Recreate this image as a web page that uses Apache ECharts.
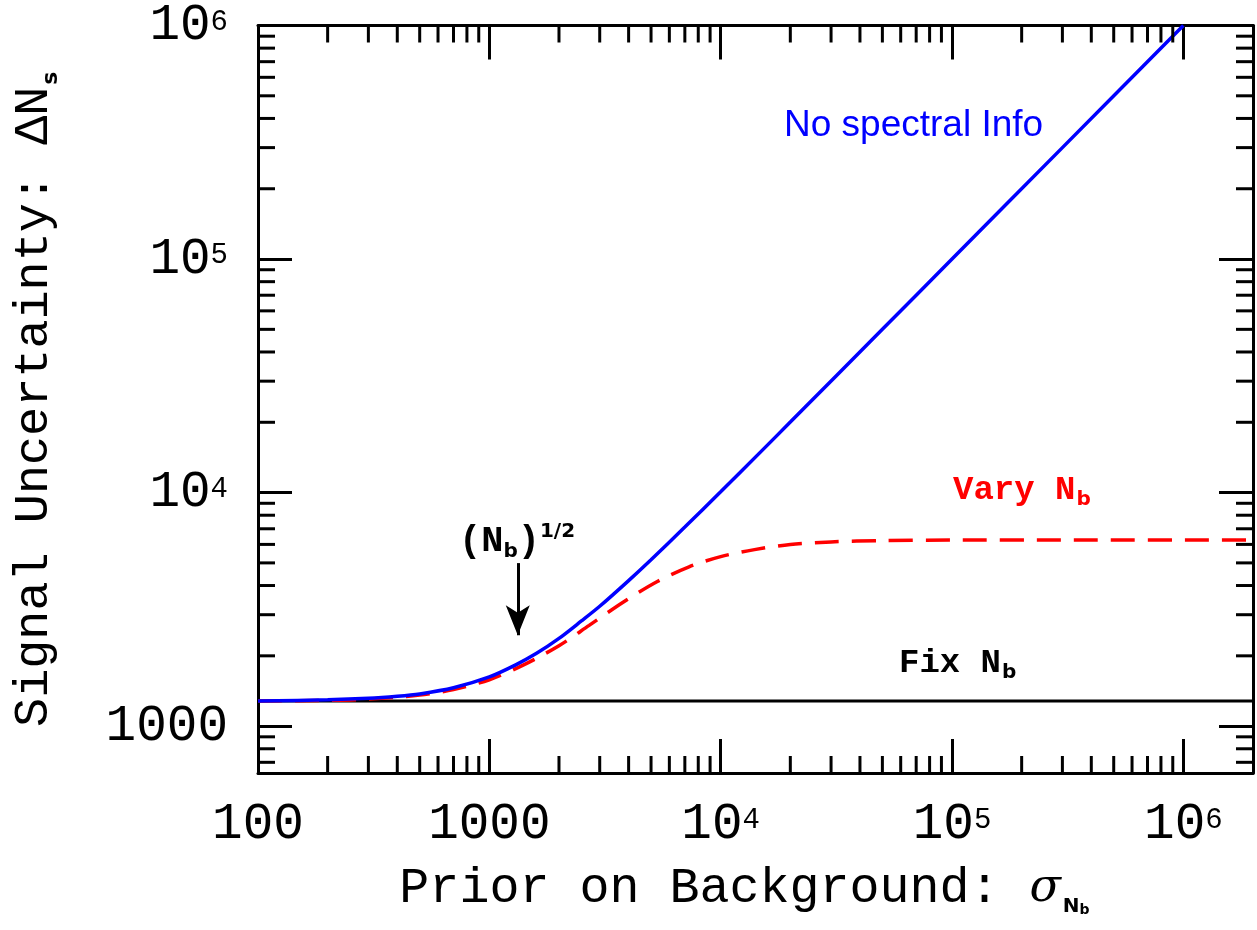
<!DOCTYPE html>
<html>
<head>
<meta charset="utf-8">
<script src="https://cdn.jsdelivr.net/npm/echarts@6/dist/echarts.min.js"></script>
<style>html,body{margin:0;padding:0;background:#fff}#c{width:1257px;height:930px}</style>
</head>
<body>
<div id="c"></div>
<script>
// ---- data ----
const sigmaBlue = [100, 200, 300, 400, 500, 700, 1000, 1300, 1600, 2000, 2500, 3000, 4000, 5000, 7000, 10000, 15000, 20000, 50000, 100000, 300000, 1000000];
const deltaBlue = [1282, 1296, 1315, 1342, 1374, 1460, 1625, 1830, 2050, 2375, 2820, 3260, 4200, 5160, 7120, 10080, 15050, 20040, 50020, 100000, 300000, 1000000];

const sigmaRed = [100, 200, 300, 500, 700, 1000, 1400, 2000, 2700, 3800, 5300, 7300, 10000, 14000, 20000, 30000, 50000, 100000, 300000, 2000000];
const deltaRed = [1281, 1290, 1305, 1358, 1435, 1580, 1825, 2210, 2700, 3400, 4150, 4810, 5320, 5700, 6000, 6150, 6230, 6260, 6265, 6265];

const sigmaFix = [100, 2000000];
const deltaFix = [1280, 1280];

const xTickExp = [2, 3, 4, 5, 6];
const xTickText = ['100', '1000', '10^4', '10^5', '10^6'];
const yTickExp = [3, 4, 5, 6];
const yTickText = ['1000', '10^4', '10^5', '10^6'];

const arrowX = 1327, arrowYFrom = 4990, arrowYTo = 2450;

const X_MIN = 100, X_MAX = 2000000, Y_MIN = 630, Y_MAX = 1000000;

// ---- helpers ----
const MONO = '"Liberation Mono", "DejaVu Sans Mono", monospace';
function zip(a, b) { return a.map((v, i) => [v, b[i]]); }
function tickFmt(exps, texts) {
  return function (v) {
    const l = Math.log10(v), e = Math.round(l);
    if (Math.abs(l - e) > 1e-6) return '';
    const i = exps.indexOf(e);
    if (i < 0) return '';
    const t = texts[i];
    if (t.indexOf('^') >= 0) { const p = t.split('^'); return '{b|' + p[0] + '}{s|' + p[1] + '}'; }
    return '{b|' + t + '}';
  };
}
const labelRich = {
  b: { fontFamily: MONO, fontSize: 51, color: '#000', lineHeight: 50 },
  s: { fontFamily: MONO, fontSize: 29, color: '#000', verticalAlign: 'top', lineHeight: 29, padding: [7, 0, 0, 0] }
};

const xMinor = [], yMinor = [];
for (let d = 2; d <= 6; d++) for (let m = 2; m <= 9; m++) { const v = m * Math.pow(10, d); if (v < X_MAX) xMinor.push([v, Y_MIN]); }
for (let d = 2; d <= 5; d++) for (let m = 2; m <= 9; m++) { const v = m * Math.pow(10, d); if (v > Y_MIN && v < Y_MAX) yMinor.push([X_MIN, v]); }

const MINOR = 17, TW = 3;
function tickLine(x1, y1, x2, y2) {
  return { type: 'line', shape: { x1: x1, y1: y1, x2: x2, y2: y2 }, style: { stroke: '#000', lineWidth: TW } };
}

const axisCommon = {
  type: 'log', logBase: 10,
  axisLine: { show: true, lineStyle: { color: '#000', width: 3 } },
  axisTick: { show: true, inside: true, length: 34, lineStyle: { color: '#000', width: 3 } },
  splitLine: { show: false },
  minorTick: { show: false }
};

const chart = echarts.init(document.getElementById('c'), null, { renderer: 'canvas' });
chart.setOption({
  animation: false,
  backgroundColor: '#fff',
  grid: { left: 258, right: 4, top: 25, bottom: 157, containLabel: false },
  xAxis: [
    Object.assign({}, axisCommon, {
      position: 'bottom', min: X_MIN, max: X_MAX,
      axisLabel: { show: true, margin: 26, formatter: tickFmt(xTickExp, xTickText), rich: labelRich, showMinLabel: true, showMaxLabel: false, hideOverlap: false },
      name: '{t|Prior on Background: }{sg|σ}{n|N}{nb|b}',
      nameLocation: 'middle', nameGap: 88,
      nameTextStyle: {
        padding: [0, 22, 0, 0],
        rich: {
          t: { fontFamily: MONO, fontSize: 50, color: '#000', lineHeight: 56 },
          sg: { fontFamily: '"DejaVu Serif", serif', fontStyle: 'italic', fontSize: 46, color: '#000', lineHeight: 56 },
          n: { fontFamily: '"DejaVu Sans", sans-serif', fontWeight: 'bold', fontSize: 20, color: '#000', verticalAlign: 'bottom', lineHeight: 20, padding: [0, 0, 0, 2] },
          nb: { fontFamily: '"DejaVu Sans", sans-serif', fontWeight: 'bold', fontSize: 14, color: '#000', verticalAlign: 'bottom', lineHeight: 14, padding: [0, 0, 0, 0] }
        }
      }
    }),
    Object.assign({}, axisCommon, {
      position: 'top', min: X_MIN, max: X_MAX, axisLabel: { show: false }
    })
  ],
  yAxis: [
    Object.assign({}, axisCommon, {
      position: 'left', min: Y_MIN, max: Y_MAX,
      axisLabel: { show: true, margin: 30, formatter: tickFmt(yTickExp, yTickText), rich: labelRich, showMinLabel: false, showMaxLabel: true, hideOverlap: false },
      name: '{t|Signal Uncertainty: ΔN}{s|s}',
      nameLocation: 'middle', nameRotate: 90, nameGap: 196,
      nameTextStyle: {
        rich: {
          t: { fontFamily: MONO, fontSize: 48.5, color: '#000', lineHeight: 56 },
          s: { fontFamily: '"DejaVu Sans", sans-serif', fontWeight: 'bold', fontSize: 22, color: '#000', verticalAlign: 'bottom', lineHeight: 22, padding: [0, 0, 0, 2] }
        }
      }
    }),
    Object.assign({}, axisCommon, {
      position: 'right', min: Y_MIN, max: Y_MAX, axisLabel: { show: false }
    })
  ],
  series: [
    {
      name: 'Fix Nb', type: 'line', data: zip(sigmaFix, deltaFix), showSymbol: false, symbol: 'none',
      lineStyle: { color: '#000', width: 3 }, z: 3,
      markLine: {
        silent: true, symbol: ['none', 'arrow'], symbolSize: [18, 30],
        lineStyle: { color: '#000', width: 3, type: 'solid' }, label: { show: false },
        data: [[{ coord: [arrowX, arrowYFrom] }, { coord: [arrowX, arrowYTo] }]]
      }
    },
    {
      name: 'Vary Nb', type: 'line', data: zip(sigmaRed, deltaRed), showSymbol: false, symbol: 'none', smooth: 0.3,
      lineStyle: { color: '#ff0000', width: 3.5, type: [24, 13] }, z: 4
    },
    {
      name: 'No spectral Info', type: 'line', data: zip(sigmaBlue, deltaBlue), showSymbol: false, symbol: 'none', smooth: 0.3,
      lineStyle: { color: '#0000ff', width: 3.5 }, z: 5
    },
    {
      type: 'custom', data: xMinor, silent: true, z: 10,
      renderItem: function (params, api) {
        const v = api.value(0);
        const pb = api.coord([v, Y_MIN]), pt = api.coord([v, Y_MAX]);
        return { type: 'group', children: [tickLine(pb[0], pb[1], pb[0], pb[1] - MINOR), tickLine(pt[0], pt[1], pt[0], pt[1] + MINOR)] };
      }
    },
    {
      type: 'custom', data: yMinor, silent: true, z: 10,
      renderItem: function (params, api) {
        const v = api.value(1);
        const pl = api.coord([X_MIN, v]), pr = api.coord([X_MAX, v]);
        return { type: 'group', children: [tickLine(pl[0], pl[1], pl[0] + MINOR, pl[1]), tickLine(pr[0], pr[1], pr[0] - MINOR, pr[1])] };
      }
    }
  ],
  graphic: [
    {
      type: 'text', x: 784, y: 126, z: 20,
      style: { text: 'No spectral Info', fill: '#0000ff', font: '37px "Liberation Sans", Arial, sans-serif', align: 'left', verticalAlign: 'middle' }
    },
    {
      type: 'text', x: 953, y: 490, z: 20,
      style: {
        text: '{m|Vary N}{s|b}', align: 'left', verticalAlign: 'middle',
        rich: {
          m: { fontFamily: MONO, fontWeight: 'bold', fontSize: 34, fill: '#ff0000', lineHeight: 40 },
          s: { fontFamily: '"DejaVu Sans", sans-serif', fontWeight: 'bold', fontSize: 20, fill: '#ff0000', verticalAlign: 'bottom', lineHeight: 20, padding: [0, 0, 0, 1] }
        }
      }
    },
    {
      type: 'text', x: 899, y: 663, z: 20,
      style: {
        text: '{m|Fix N}{s|b}', align: 'left', verticalAlign: 'middle',
        rich: {
          m: { fontFamily: MONO, fontWeight: 'bold', fontSize: 34, fill: '#000', lineHeight: 40 },
          s: { fontFamily: '"DejaVu Sans", sans-serif', fontWeight: 'bold', fontSize: 20, fill: '#000', verticalAlign: 'bottom', lineHeight: 20, padding: [0, 0, 0, 1] }
        }
      }
    },
    {
      type: 'text', x: 459, y: 542, z: 20,
      style: {
        text: '{m|(N}{s|b}{m|)}{p|1/2}', align: 'left', verticalAlign: 'middle',
        rich: {
          m: { fontFamily: MONO, fontWeight: 'bold', fontSize: 37, fill: '#000', lineHeight: 40 },
          s: { fontFamily: '"DejaVu Sans", sans-serif', fontWeight: 'bold', fontSize: 20, fill: '#000', verticalAlign: 'bottom', lineHeight: 20 },
          p: { fontFamily: '"DejaVu Sans", sans-serif', fontWeight: 'bold', fontSize: 20, fill: '#000', verticalAlign: 'top', lineHeight: 20 }
        }
      }
    }
  ]
});
</script>
</body>
</html>
